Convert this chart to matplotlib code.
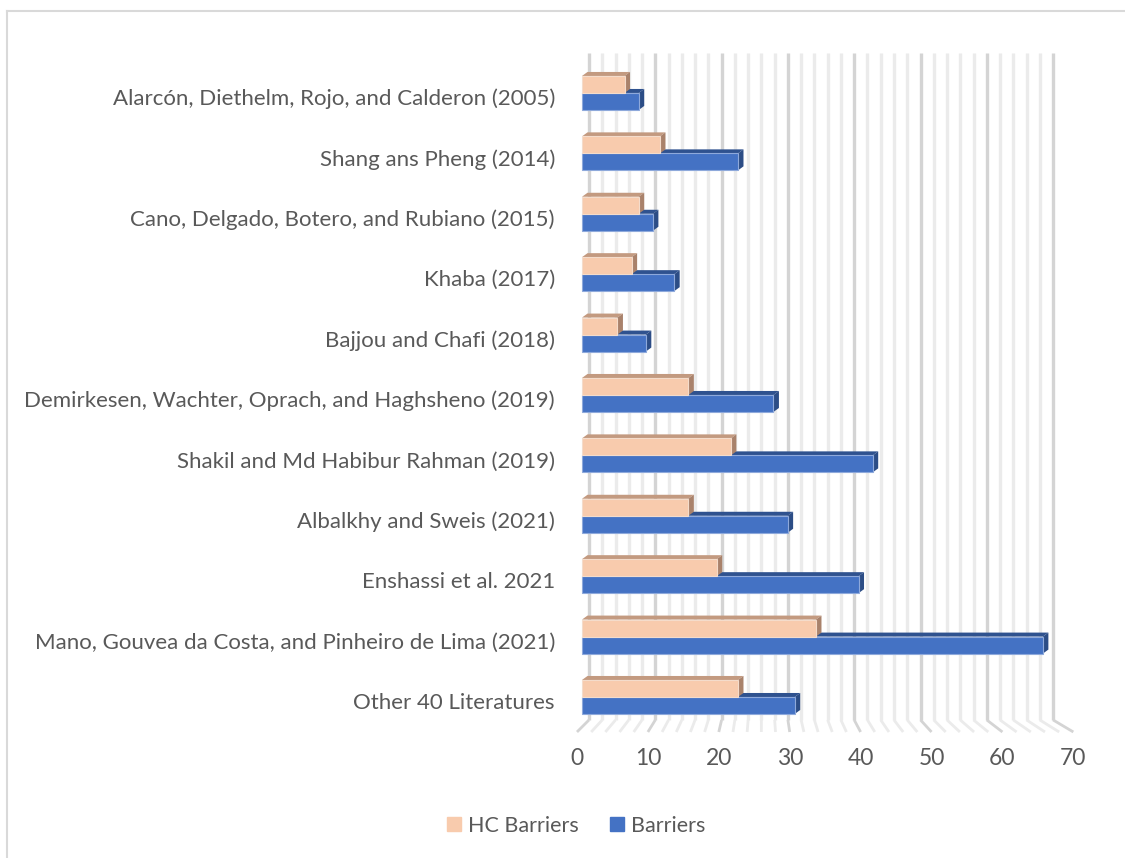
import numpy as np
import matplotlib
matplotlib.use("Agg")
from matplotlib import pyplot as plt
from matplotlib.patches import Polygon
from matplotlib.lines import Line2D
from matplotlib.transforms import ScaledTranslation

studies = [
    "Alarcón, Diethelm, Rojo, and Calderon (2005)",
    "Shang ans Pheng (2014)",
    "Cano, Delgado, Botero, and Rubiano (2015)",
    "Khaba (2017)",
    "Bajjou and Chafi (2018)",
    "Demirkesen, Wachter, Oprach, and Haghsheno (2019)",
    "Shakil and Md Habibur Rahman (2019)",
    "Albalkhy and Sweis (2021)",
    "Enshassi et al. 2021",
    "Mano, Gouvea da Costa, and Pinheiro de Lima (2021)",
    "Other 40 Literatures",
]
hc_barriers = [6, 11, 8, 7, 5, 15, 21, 15, 19, 33, 22]
barriers = [8, 22, 10, 13, 9, 27, 41, 29, 39, 65, 30]
xticks = [0, 10, 20, 30, 40, 50, 60, 70]

text_color = "#595959"
font = ["Lato", "DejaVu Sans"]

# pixel scale of the chart (used to fake the 3D look)
px_x = 7.09   # px per unit on the bar plane
px_y = 60.4   # px per category
dx, dy = 5.5 / px_x, 4.0 / px_y
bar_h = 17 / px_y

fig = plt.figure(figsize=(11.25, 8.58), dpi=100)
ax = fig.add_axes([574.9 / 1125, (858 - 745.3) / 858, 531.8 / 1125, 706.7 / 858])
ax.set_xlim(-1, 74)
ax.set_ylim(10.8, -0.9)
for s in ax.spines.values():
    s.set_visible(False)

# back wall gridlines and floor (perspective: back wall is narrower)
back_top = (53 - 93) / px_y
back_bot = (720 - 93) / px_y
front_bot = (732 - 93) / px_y
for v in range(0, 72, 2):
    xb = (589 + 6.63 * v - 582) / px_x
    xf = (577 + 7.09 * v - 582) / px_x
    col = "#d4d4d4" if v % 10 == 0 else "#ebebeb"
    ax.plot([xb, xb], [back_top, back_bot], color=col, lw=2.4, solid_capstyle="butt", zorder=1)
    ax.plot([xb, xf], [back_bot, front_bot], color=col, lw=2.0, solid_capstyle="butt", zorder=1)

y = np.arange(len(studies))


def bar3d(yc, value, top, side):
    y0, y1 = yc - bar_h / 2, yc + bar_h / 2
    ax.add_patch(Polygon([(0, y0), (value, y0), (value + dx, y0 - dy), (dx, y0 - dy)],
                         closed=True, facecolor=top, edgecolor="none", zorder=3))
    ax.add_patch(Polygon([(value, y0), (value, y1), (value + dx, y1 - dy), (value + dx, y0 - dy)],
                         closed=True, facecolor=side, edgecolor="none", zorder=3))


for i in y:
    bar3d(i + bar_h / 2, barriers[i], "#2F528F", "#2C4D86")
    bar3d(i - bar_h / 2, hc_barriers[i], "#C39A80", "#A9826B")
ax.barh(y + bar_h / 2, barriers, height=bar_h, color="#4472C4", edgecolor="#8EA9DB",
        linewidth=0.8, zorder=4, label="Barriers")
ax.barh(y - bar_h / 2, hc_barriers, height=bar_h, color="#F8CBAD", edgecolor="#F4DCCB",
        linewidth=0.8, zorder=5, label="HC Barriers")

ax.set_yticks([])
for i, name in enumerate(studies):
    ax.annotate(name, xy=(0, i + 0.1), xycoords="data", xytext=(-27 * 72 / 100, 0),
                textcoords="offset points", fontsize=16, family=font, color=text_color,
                ha="right", va="center")

ax.set_xticks(xticks)
ax.set_xticklabels([str(t) for t in xticks], fontsize=16.5, family=font, color=text_color)
ax.tick_params(axis="x", length=0, pad=2)
for lab in ax.get_xticklabels():
    lab.set_transform(lab.get_transform() + ScaledTranslation(-5 / 100, 0, fig.dpi_scale_trans))

handles = [Line2D([0], [0], marker="s", ls="none", markersize=10, color="#F8CBAD"),
           Line2D([0], [0], marker="s", ls="none", markersize=10, color="#4472C4")]
fig.legend(handles, ["HC Barriers", "Barriers"], loc="center", ncol=2,
           bbox_to_anchor=(576 / 1125, 1 - 826 / 858), frameon=False,
           prop={"family": font, "size": 15.5}, handlelength=0.7, handletextpad=0.3,
           columnspacing=1.4, labelcolor=text_color)

# outer chart border (top and left edges visible)
fig.add_artist(Line2D([7 / 1125, 7 / 1125], [0, 1 - 11 / 858], color="#d9d9d9", lw=1.5,
                      transform=fig.transFigure))
fig.add_artist(Line2D([7 / 1125, 1], [1 - 11 / 858, 1 - 11 / 858], color="#d9d9d9", lw=1.5,
                      transform=fig.transFigure))

fig.savefig("out.png", dpi=100)
